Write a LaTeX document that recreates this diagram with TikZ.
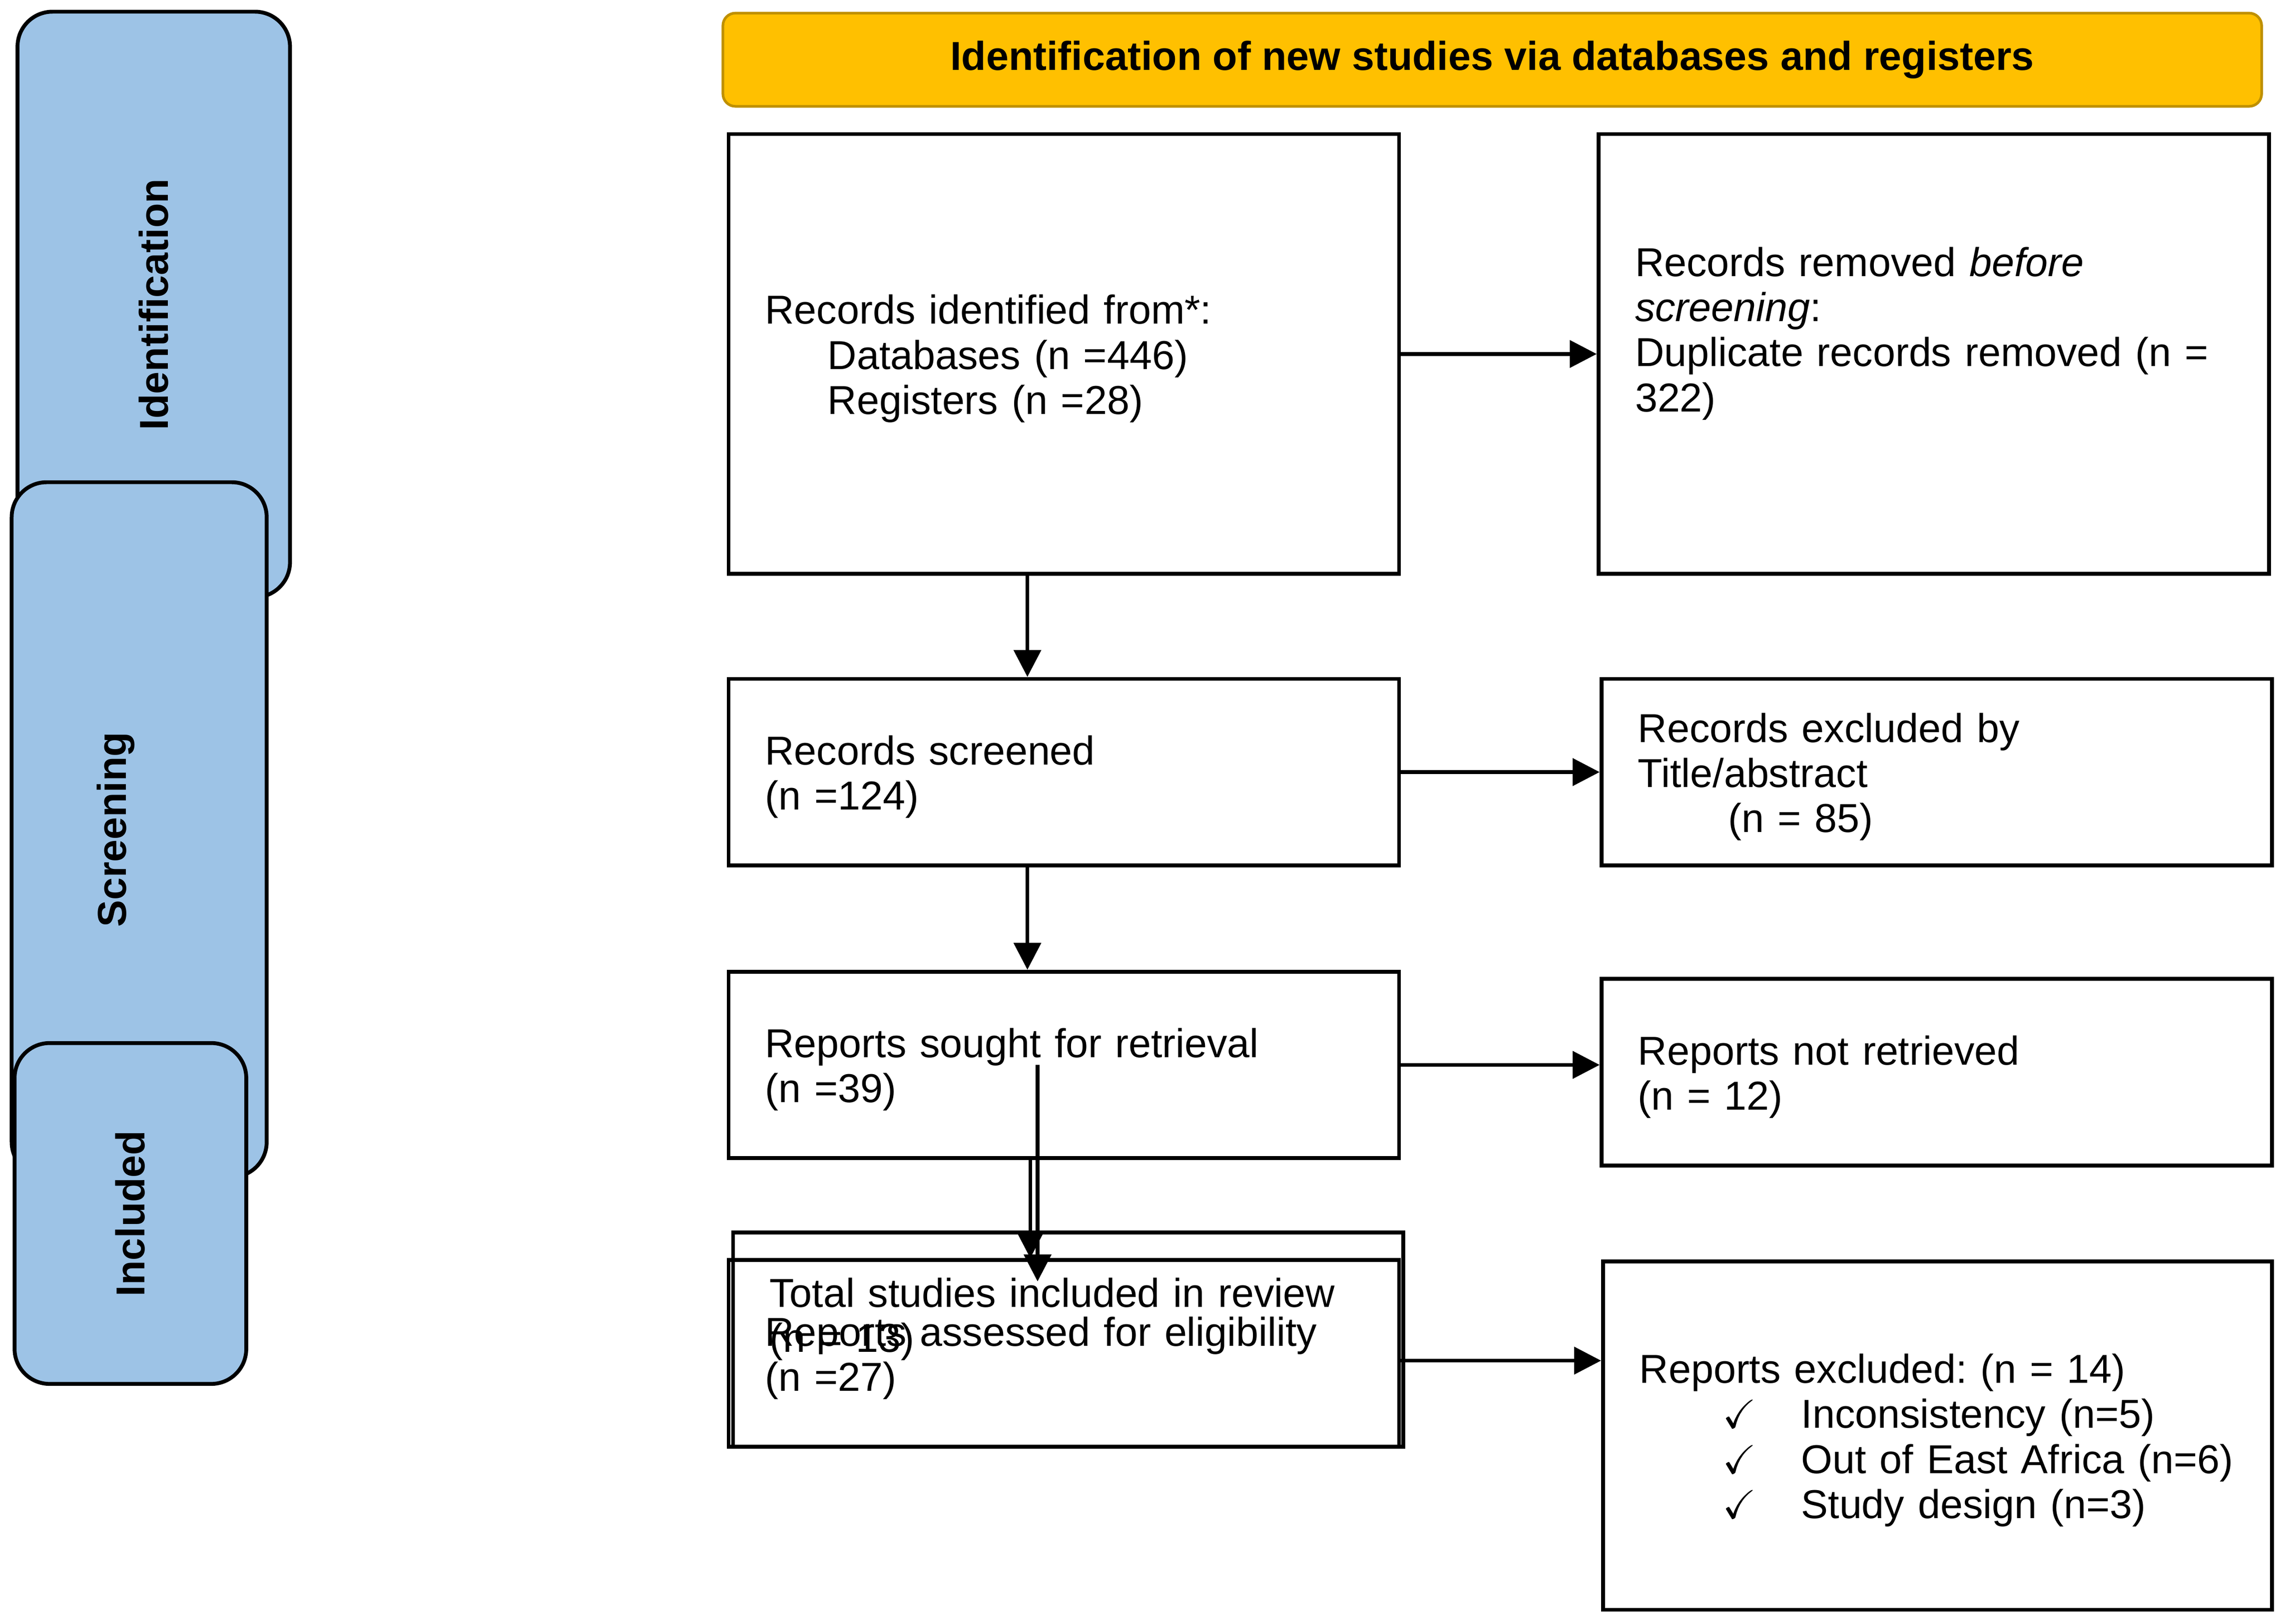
\documentclass[tikz,border=0pt]{standalone}
\usepackage{fontspec}
\setmainfont{Liberation Sans}
\usepackage{amsmath}
\usepackage{amssymb}
\usetikzlibrary{arrows.meta}
\definecolor{barblue}{HTML}{9DC3E6}
\definecolor{bannergold}{HTML}{FFC000}
\definecolor{bannerline}{HTML}{BF9000}
\frenchspacing

\begin{document}
\begin{tikzpicture}[x=0.029171cm,y=-0.029171cm,
  font=\fontsize{23}{25.7}\selectfont,
  box/.style={draw,line width=2.2pt,inner xsep=0.729cm,inner ysep=0pt,
    text width=11.96cm,align=left,minimum width=13.419cm,
    execute at begin node={\rule{0pt}{22pt}}},
  bar/.style={draw,line width=2.2pt,fill=barblue,rounded corners=0.7cm,inner sep=0pt},
  barlabel/.style={rotate=90,font=\fontsize{23}{25.7}\selectfont\bfseries},
  arr/.style={line width=2.2pt,-{Triangle[length=0.54cm,width=0.54cm]}}]
 \useasboundingbox (0,0) rectangle (1568,1114.5);

 % phase bars on the left
 \node[bar,minimum width=5.455cm,minimum height=11.727cm] (idbar) at (105.5,209) {};
 \node[bar,minimum width=5.105cm,minimum height=13.915cm] (scrbar) at (95.5,569.5) {};
 \node[bar,minimum width=4.638cm,minimum height=6.826cm] (incbar) at (89.5,833) {};
 \node[barlabel] (idlabel) at (idbar.center) {Identification};
 \node[barlabel] (scrlabel) at ([xshift=-0.47cm]scrbar.center) {Screening};
 \node[barlabel] (inclabel) at (incbar.center) {Included};

 % header
 \node[draw=bannerline,fill=bannergold,line width=1.5pt,rounded corners=0.25cm,
   minimum width=30.805cm,minimum height=1.867cm,
   font=\fontsize{23}{25.7}\selectfont\bfseries] (banner) at (1024,41)
   {Identification of new studies via databases and registers};

 % flow boxes
 \node[box,minimum height=8.81cm] (recid) at (730,243)
   {Records identified from*:\\ \hspace*{1.254cm}Databases (n =446)\\ \hspace*{1.254cm}Registers (n =28)};
 \node[box,minimum height=8.81cm] (recrem) at (1327,243)
   {Records removed \textit{before}\\ \textit{screening}:\\ Duplicate records removed (n =\\ 322)\\ \strut};
 \node[box,minimum height=3.734cm] (screen) at (730,530) {Records screened\\ (n =124)};
 \node[box,minimum height=3.734cm] (titleexcl) at (1329,530)
   {Records excluded by\\ Title/abstract\\ \hspace*{1.809cm}(n = 85)};
 \node[box,minimum height=3.734cm] (sought) at (730,731) {Reports sought for retrieval\\ (n =39)};
 \node[box,minimum height=3.734cm] (notret) at (1329,736) {Reports not retrieved\\ (n = 12)};
 \node[box,minimum height=4.288cm] (total) at (733,919.5)
   {Total studies included in review\\ (n = 13)\\ \strut};
 \node[box,minimum height=3.734cm] (assess) at (730,929) {Reports assessed for eligibility\\ (n =27)};
 \node[box,text width=11.93cm,minimum width=13.39cm,minimum height=6.972cm] (repexcl) at (1329.5,985.5)
   {Reports excluded: (n = 14)\\
    \hspace*{1.663cm}\makebox[1.575cm][l]{$\boldsymbol{\checkmark}$}Inconsistency (n=5)\\
    \hspace*{1.663cm}\makebox[1.575cm][l]{$\boldsymbol{\checkmark}$}Out of East Africa (n=6)\\
    \hspace*{1.663cm}\makebox[1.575cm][l]{$\boldsymbol{\checkmark}$}Study design (n=3)};

 % arrows
 \draw[arr] (recid.east) -- (recrem.west);
 \draw[arr] ([xshift=-0.729cm]recid.south) -- ([xshift=-0.729cm]screen.north);
 \draw[arr] (screen.east) -- (titleexcl.west);
 \draw[arr] ([xshift=-0.729cm]screen.south) -- ([xshift=-0.729cm]sought.north);
 \draw[arr] (sought.east) -- (sought.east -| notret.west);
 \draw[arr] ([xshift=-0.525cm]sought.center) -- ([xshift=-0.613cm,yshift=-1.02cm]total.north);
 \draw[arr] ([xshift=-0.671cm]sought.south) -- ([xshift=-0.671cm]assess.north);
 \draw[arr] ([yshift=-0.146cm]assess.east) -- ([yshift=-0.146cm]assess.east -| repexcl.west);
\end{tikzpicture}
\end{document}
